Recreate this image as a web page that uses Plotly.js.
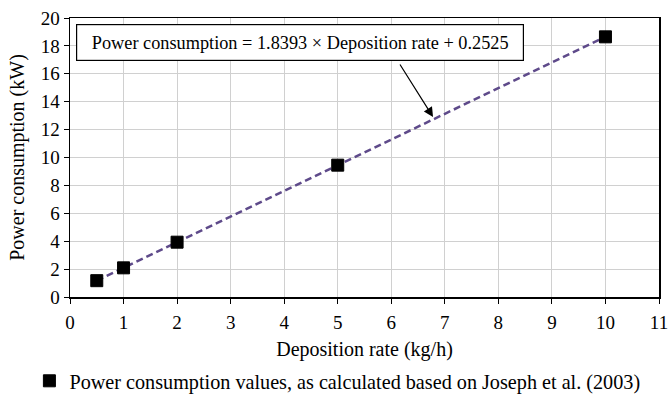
<!DOCTYPE html>
<html><head><meta charset="utf-8">
<script src="https://cdn.plot.ly/plotly-3.0.1.min.js"></script>
<style>html,body{margin:0;padding:0;background:#fff}</style>
</head><body>
<div id="chart" style="width:670px;height:395px"></div>
<script>
const depositionRate = [0.5, 1, 2, 5, 10];
const powerConsumption = [1.17, 2.09, 3.93, 9.45, 18.65];
const trendX = [0.5, 10];
const trendY = [1.17, 18.65];
const xTicks = [0,1,2,3,4,5,6,7,8,9,10,11];
const yTicks = [0,2,4,6,8,10,12,14,16,18,20];
const equationText = 'Power consumption = 1.8393 × Deposition rate + 0.2525';
const seriesName = 'Power consumption values, as calculated based on Joseph et al. (2003)';

const F = 'Liberation Serif';
const traces = [
  {x: trendX, y: trendY, mode: 'lines', showlegend: false, hoverinfo: 'skip',
   line: {color: '#5e4a8a', width: 2.5, dash: '7px,4px'}},
  {x: depositionRate, y: powerConsumption, mode: 'markers', name: seriesName,
   marker: {symbol: 'square', size: 12, color: '#000000', line: {color: '#000', width: 1}}}
];
const layout = {
  width: 670, height: 395,
  margin: {l: 70, r: 11, t: 18, b: 98, autoexpand: false},
  paper_bgcolor: '#fff', plot_bgcolor: '#fff',
  font: {family: F, size: 19, color: '#000'},
  xaxis: {range: [0, 11], tickvals: xTicks, ticktext: xTicks.map(String),
    showgrid: true, gridcolor: '#d0d0d0', gridwidth: 1, zeroline: false,
    showline: true, linecolor: '#000', linewidth: 1.5, mirror: true,
    ticks: 'outside', ticklen: 5, tickcolor: '#000', automargin: false,
    ticklabelstandoff: 3,
    tickfont: {family: F, size: 19},
    title: {text: 'Deposition rate (kg/h)', font: {family: F, size: 20}, standoff: 13}},
  yaxis: {range: [0, 20], tickvals: yTicks, ticktext: yTicks.map(String),
    showgrid: true, gridcolor: '#d0d0d0', gridwidth: 1, zeroline: false,
    showline: true, linecolor: '#000', linewidth: 1.5, mirror: true,
    ticks: 'outside', ticklen: 5, tickcolor: '#000', automargin: false,
    tickfont: {family: F, size: 19},
    title: {text: 'Power consumption (kW)', font: {family: F, size: 20}, standoff: 10}},
  showlegend: true,
  legend: {orientation: 'h', x: 0.454, xanchor: 'center', yref: 'container', y: 0.035, yanchor: 'middle',
    font: {family: F, size: 20.2}, itemwidth: 30},
  annotations: [
    {xref: 'paper', yref: 'paper', x: 0.011, y: 0.979, xanchor: 'left', yanchor: 'top',
     text: equationText, showarrow: false, bordercolor: '#000', borderwidth: 1.2,
     width: 432, height: 21, align: 'center',
     borderpad: 7, bgcolor: '#fff', font: {family: F, size: 18.3}},
    {xref: 'x', yref: 'y', x: 6.78, y: 12.9, text: '', showarrow: true,
     axref: 'pixel', ayref: 'pixel', ax: -34, ay: -54,
     arrowhead: 2, arrowsize: 1.6, arrowwidth: 1.2, arrowcolor: '#000'}
  ]
};
Plotly.newPlot('chart', traces, layout, {displayModeBar: false, staticPlot: true});
</script>
</body></html>
